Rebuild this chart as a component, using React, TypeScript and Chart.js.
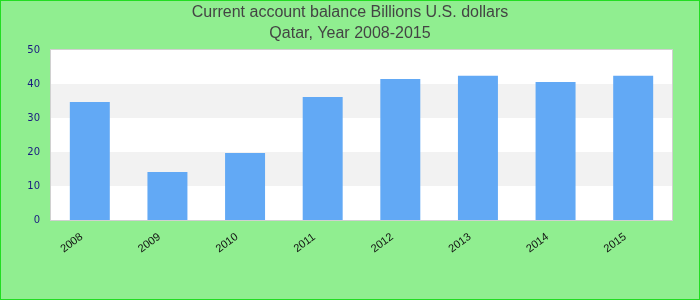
import React, { useEffect, useRef } from "react";
import { Chart, registerables } from "chart.js";

Chart.register(...registerables);

const years = ["2008", "2009", "2010", "2011", "2012", "2013", "2014", "2015"];
const balance = [34.7, 14.1, 19.7, 36.2, 41.5, 42.4, 40.6, 42.4];
const titleLines = ["Current account balance Billions U.S. dollars", "Qatar, Year 2008-2015"];
const yMin = 0;
const yMax = 50;
const yStep = 10;

const frame = {
  id: "frame",
  beforeDraw(chart: any) {
    const { ctx, chartArea, width, height } = chart;
    const y = chart.scales.y;
    ctx.save();
    // page background and outline
    ctx.fillStyle = "#90ee90";
    ctx.fillRect(0, 0, width, height);
    ctx.strokeStyle = "#22dd22";
    ctx.lineWidth = 1;
    ctx.strokeRect(0.5, 0.5, width - 1, height - 1);
    // plot background with alternating bands
    ctx.fillStyle = "#ffffff";
    ctx.fillRect(chartArea.left, chartArea.top, chartArea.right - chartArea.left, chartArea.bottom - chartArea.top);
    ctx.fillStyle = "#f2f2f2";
    for (let v = yMin + yStep; v < yMax; v += 2 * yStep) {
      const top = y.getPixelForValue(v + yStep);
      const bottom = y.getPixelForValue(v);
      ctx.fillRect(chartArea.left, top, chartArea.right - chartArea.left, bottom - top);
    }
    ctx.strokeStyle = "#d0d0d0";
    ctx.strokeRect(chartArea.left - 0.5, chartArea.top - 0.5, chartArea.right - chartArea.left + 1, chartArea.bottom - chartArea.top + 1);
    // title
    ctx.fillStyle = "#444444";
    ctx.font = "16px 'Liberation Sans', Arial, sans-serif";
    ctx.textAlign = "center";
    ctx.textBaseline = "middle";
    ctx.fillText(titleLines[0], width / 2, 13);
    ctx.fillText(titleLines[1], width / 2, 34);
    ctx.restore();
  },
  afterDraw(chart: any) {
    const { ctx } = chart;
    const x = chart.scales.x;
    ctx.save();
    ctx.fillStyle = "#111111";
    ctx.font = "11px 'Liberation Sans', Arial, sans-serif";
    ctx.textAlign = "center";
    ctx.textBaseline = "middle";
    years.forEach((label, i) => {
      const px = x.getPixelForValue(i);
      ctx.save();
      ctx.translate(px - 18, 243);
      ctx.rotate((-36 * Math.PI) / 180);
      ctx.fillText(label, 0, 0);
      ctx.restore();
    });
    ctx.restore();
  },
};

export default function App() {
  const ref = useRef<HTMLCanvasElement>(null);
  useEffect(() => {
    if (!ref.current) return;
    const chart = new Chart(ref.current, {
      type: "bar",
      data: {
        labels: years,
        datasets: [
          {
            data: balance,
            backgroundColor: "#62a9f5",
            borderWidth: 0,
            barPercentage: 0.515,
            categoryPercentage: 1,
          },
        ],
      },
      options: {
        responsive: false,
        animation: false,
        layout: { padding: { left: 0, right: 28, top: 50, bottom: 80 } },
        plugins: { legend: { display: false }, title: { display: false }, tooltip: { enabled: false } },
        scales: {
          x: {
            grid: { display: false },
            border: { display: false },
            ticks: { display: false },
            afterFit: (s: any) => {
              s.height = 0;
            },
          },
          y: {
            min: yMin,
            max: yMax,
            grid: { display: false, drawTicks: false },
            border: { display: false },
            ticks: {
              stepSize: yStep,
              padding: 11,
              color: "#1a1a80",
              font: { family: "'DejaVu Sans', sans-serif", size: 10 },
            },
            afterFit: (s: any) => {
              s.width = 51;
            },
          },
        },
      },
      plugins: [frame],
    });
    return () => chart.destroy();
  }, []);
  return (
    <div style={{ position: "fixed", left: 0, top: 0, width: 700, height: 300 }}>
      <canvas ref={ref} width={700} height={300} style={{ display: "block" }} />
    </div>
  );
}
